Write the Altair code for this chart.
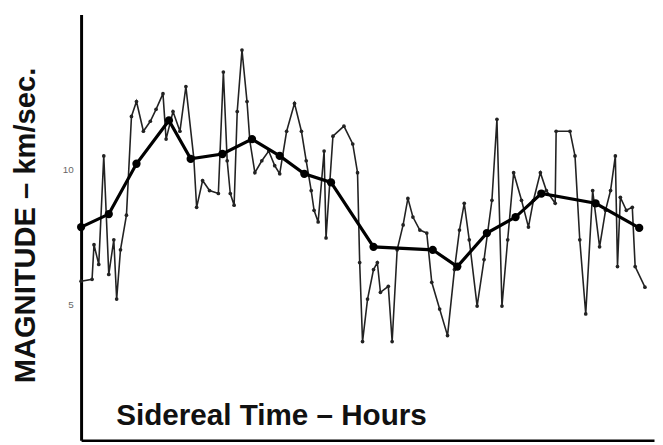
import altair as alt
import pandas as pd

# Noisy (individual) series: sidereal hour, magnitude km/sec
raw_hours = [0.0, 0.46, 0.54, 0.74, 0.95, 1.16, 1.37, 1.49, 1.65, 1.90,
             2.11, 2.32, 2.61, 2.90, 3.14, 3.43, 3.56, 3.85, 4.14, 4.39,
             4.72, 4.84, 5.09, 5.38, 5.75, 5.96, 6.12, 6.25, 6.41, 6.54,
             6.74, 6.95, 7.07, 7.28, 7.57, 7.86, 8.11, 8.32, 8.61, 8.94,
             9.23, 9.43, 9.64, 9.76, 9.93, 10.18, 10.26, 10.55, 11.01, 11.38,
             11.58, 11.67, 11.79, 12.00, 12.25, 12.41, 12.54, 12.87, 13.03, 13.24,
             13.49, 13.69, 13.90, 14.19, 14.48, 14.69, 15.02, 15.35, 15.64, 15.85,
             16.05, 16.26, 16.59, 16.88, 17.21, 17.42, 17.63, 17.87, 18.12, 18.45,
             18.74, 18.95, 19.24, 19.49, 19.86, 19.90, 20.48, 20.69, 20.89, 21.14,
             21.43, 21.72, 21.97, 22.18, 22.38, 22.47, 22.59, 22.84, 23.09, 23.21,
             23.62]
raw_mag = [5.88, 5.95, 7.23, 6.50, 10.51, 6.13, 7.41, 5.22, 7.04, 8.32,
           11.97, 12.52, 11.42, 11.79, 12.23, 12.81, 11.13, 12.15, 11.42, 13.07,
           10.44, 8.61, 9.60, 9.23, 9.12, 13.61, 10.33, 9.12, 8.69, 12.15,
           14.42, 12.52, 11.06, 9.89, 10.33, 10.69, 10.15, 9.85, 11.42, 12.45,
           11.42, 10.33, 9.23, 8.50, 8.07, 10.69, 7.48, 11.24, 11.61, 10.95,
           9.89, 6.57, 3.65, 5.22, 6.31, 6.57, 5.47, 5.69, 3.65, 7.04,
           7.96, 8.94, 8.25, 7.77, 7.66, 5.84, 4.85, 3.87, 6.31, 7.77,
           8.76, 7.41, 4.96, 6.68, 8.87, 11.86, 4.96, 7.41, 9.89, 8.87,
           7.88, 8.87, 9.89, 9.23, 8.76, 11.42, 11.42, 10.51, 7.41, 4.67,
           9.23, 7.15, 8.50, 9.23, 10.51, 6.42, 8.98, 8.50, 8.61, 6.42,
           5.66]

# Smoothed series
smooth_hours = [0.0, 1.16, 2.32, 3.68, 4.59, 5.92, 7.16, 8.32, 9.35, 10.47,
                12.25, 14.73, 15.76, 17.0, 18.2, 19.28, 21.55, 23.38]
smooth_mag = [7.88, 8.36, 10.22, 11.82, 10.40, 10.58, 11.13, 10.51, 9.85, 9.53,
              7.15, 7.04, 6.42, 7.66, 8.25, 9.12, 8.76, 7.85]

y_ticks = [5, 10]

raw = pd.DataFrame({"hour": raw_hours, "mag": raw_mag})
smooth = pd.DataFrame({"hour": smooth_hours, "mag": smooth_mag})

FONT = "Liberation Sans"

x_enc = alt.X(
    "hour:Q",
    scale=alt.Scale(domain=[0, 24], nice=False, zero=False),
    axis=alt.Axis(
        title="Sidereal Time – Hours",
        ticks=False, labels=False, grid=False,
        domainColor="black", domainWidth=2.5,
        titleFont=FONT, titleFontSize=30, titleFontWeight="bold",
        titleColor="#111", titleAlign="left", titleBaseline="alphabetic",
        titleX=35, titleY=-16,
    ),
)
y_enc = alt.Y(
    "mag:Q",
    scale=alt.Scale(domain=[0, 15.73], nice=False),
    axis=alt.Axis(
        values=y_ticks,
        title="MAGNITUDE – km/sec.",
        grid=False, ticks=False,
        labelPadding=8, labelFontSize=10, labelColor="#666", labelFont=FONT,
        domainColor="black", domainWidth=3,
        titleFont=FONT, titleFontSize=29.5, titleFontWeight="bold",
        titleColor="#111", titleAngle=270, titleAlign="center",
        titleBaseline="alphabetic", titleX=-47, titleY=213,
    ),
)

noisy_line = alt.Chart(raw).mark_line(color="#222", strokeWidth=1.6).encode(x=x_enc, y=y_enc)
noisy_pts = alt.Chart(raw).mark_point(filled=True, color="#222", size=14, opacity=1).encode(x="hour:Q", y="mag:Q")
smooth_line = alt.Chart(smooth).mark_line(color="black", strokeWidth=3.2).encode(x="hour:Q", y="mag:Q")
smooth_pts = alt.Chart(smooth).mark_point(filled=True, color="black", size=70, opacity=1).encode(x="hour:Q", y="mag:Q")

chart = alt.layer(noisy_line, noisy_pts, smooth_line, smooth_pts).properties(
    width=580, height=431,
    autosize=alt.AutoSizeParams(type="none"),
    padding={"left": 74, "top": 4, "right": 1, "bottom": 2},
    background="white",
).configure_view(stroke=None)

chart.save("out.html", embed_options={"renderer": "svg", "actions": False})
